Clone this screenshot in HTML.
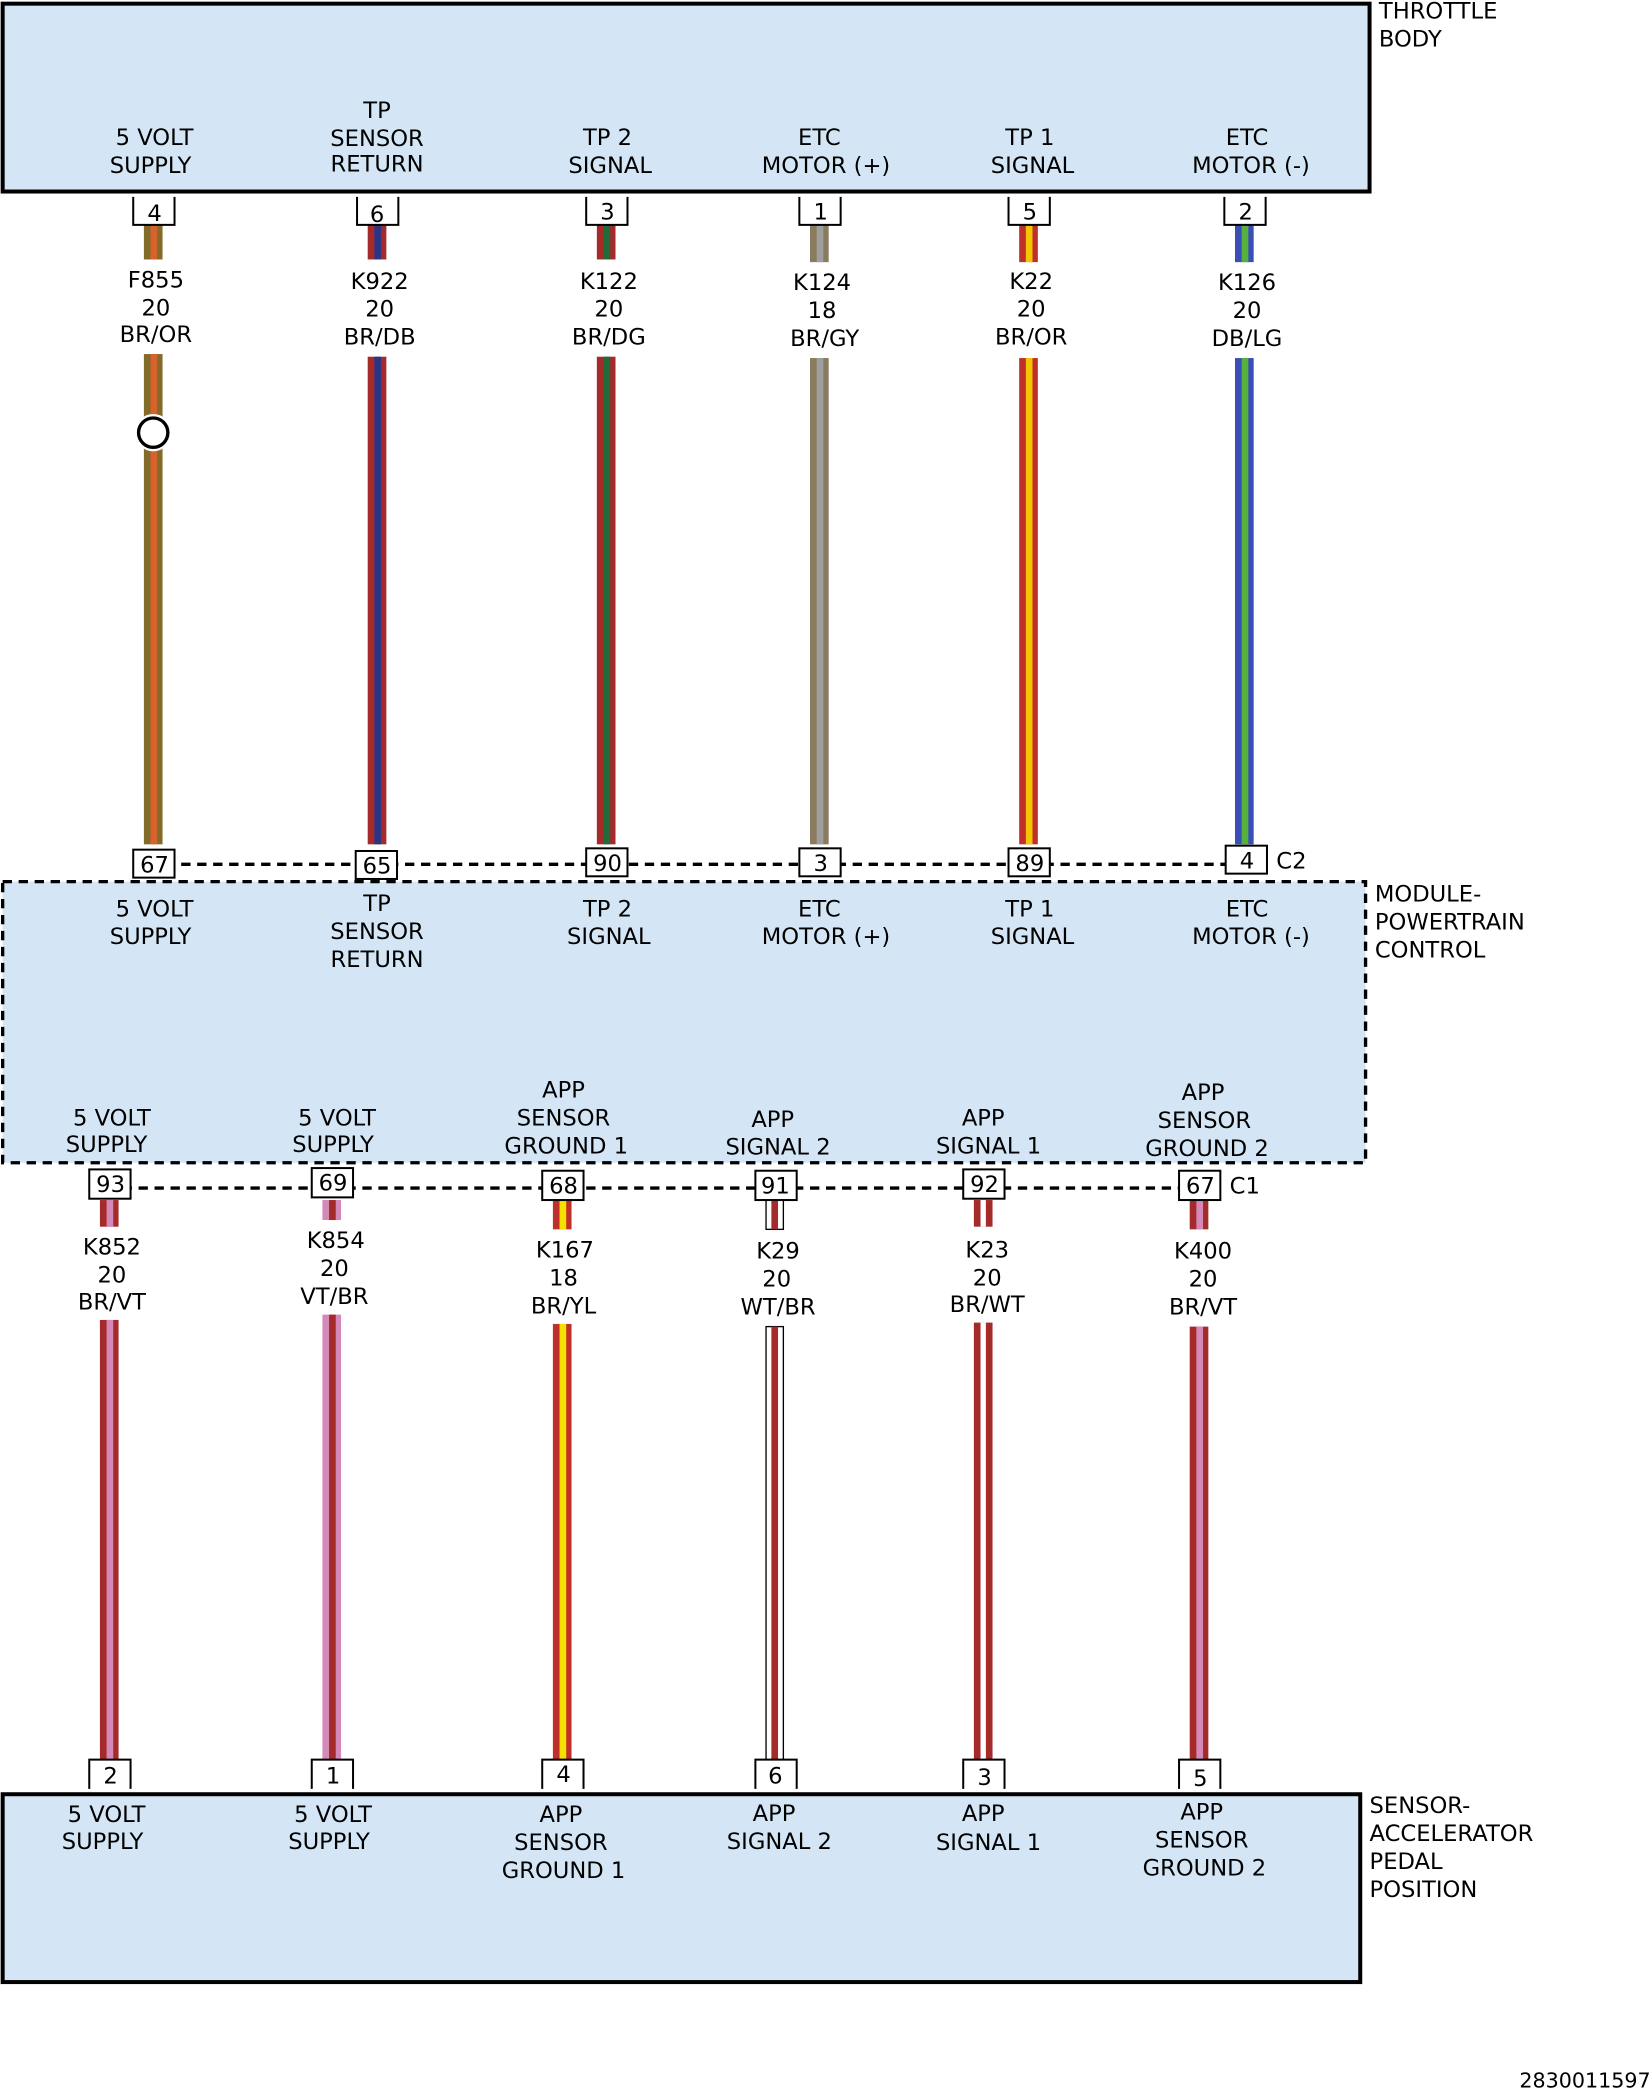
<!DOCTYPE html>
<html><head><meta charset="utf-8"><style>html,body{margin:0;padding:0;background:#fff}svg{display:block}text{font-family:"DejaVu Sans","Liberation Sans",sans-serif;font-size:17px;fill:#000;text-anchor:middle}.l{text-anchor:start}</style></head><body>
<svg width="1652" height="2091" viewBox="0 0 1240 1568" xmlns="http://www.w3.org/2000/svg">
<rect x="2" y="2" width="1026" height="141" fill="#d4e6f5" stroke="#000" stroke-width="3"/>
<rect x="2" y="661" width="1023" height="211" fill="#d4e6f5" stroke="#000" stroke-width="2.5" stroke-dasharray="7,5"/>
<rect x="2" y="1346" width="1019" height="141" fill="#d4e6f5" stroke="#000" stroke-width="3"/>
<line x1="100" y1="648" x2="935" y2="648" stroke="#000" stroke-width="2.5" stroke-dasharray="7,5"/>
<line x1="68" y1="891" x2="900" y2="891" stroke="#000" stroke-width="2.5" stroke-dasharray="7,5"/>
<g class="l"><text class="l" x="1035" y="13">THROTTLE</text><text class="l" x="1035" y="34">BODY</text>
<text class="l" x="1032" y="676">MODULE-</text><text class="l" x="1032" y="697">POWERTRAIN</text><text class="l" x="1032" y="718">CONTROL</text>
<text class="l" x="1028" y="1360">SENSOR-</text><text class="l" x="1028" y="1381">ACCELERATOR</text><text class="l" x="1028" y="1402">PEDAL</text><text class="l" x="1028" y="1423">POSITION</text>
<text class="l" x="958" y="651">C2</text><text class="l" x="923" y="895">C1</text><text x="1239" y="1566" style="text-anchor:end;font-size:15.5px">2830011597</text></g>
<g>
<rect x="108" y="168" width="14" height="26" fill="#836b2a"/><rect x="113" y="168" width="5" height="26" fill="#d9622b"/>
<rect x="108" y="265" width="14" height="368" fill="#836b2a"/><rect x="113" y="265" width="5" height="368" fill="#d9622b"/>
<circle cx="115" cy="324" r="14" fill="#fff"/><circle cx="115" cy="324" r="11" fill="#fff" stroke="#000" stroke-width="2.5"/>
<rect x="276" y="168" width="14" height="26" fill="#a52a2a"/><rect x="281" y="168" width="5" height="26" fill="#2c3585"/>
<rect x="276" y="267" width="14" height="366" fill="#a52a2a"/><rect x="281" y="267" width="5" height="366" fill="#2c3585"/>
<rect x="448" y="168" width="14" height="26" fill="#a52a2a"/><rect x="453" y="168" width="5" height="26" fill="#1f6b3a"/>
<rect x="448" y="267" width="14" height="366" fill="#a52a2a"/><rect x="453" y="267" width="5" height="366" fill="#1f6b3a"/>
<rect x="608" y="168" width="14" height="28" fill="#8a7a5e"/><rect x="613" y="168" width="5" height="28" fill="#9e9e9e"/>
<rect x="608" y="268" width="14" height="365" fill="#8a7a5e"/><rect x="613" y="268" width="5" height="365" fill="#9e9e9e"/>
<rect x="765" y="168" width="14" height="28" fill="#c0302a"/><rect x="770" y="168" width="5" height="28" fill="#f5c400"/>
<rect x="765" y="268" width="14" height="365" fill="#c0302a"/><rect x="770" y="268" width="5" height="365" fill="#f5c400"/>
<rect x="927" y="168" width="14" height="28" fill="#3a4fb5"/><rect x="932" y="168" width="5" height="28" fill="#56b23c"/>
<rect x="927" y="268" width="14" height="365" fill="#3a4fb5"/><rect x="932" y="268" width="5" height="365" fill="#56b23c"/>
</g>
<g>
<rect x="75" y="900" width="14" height="20" fill="#a52a2a"/><rect x="80" y="900" width="5" height="20" fill="#d48ab8"/>
<rect x="75" y="990" width="14" height="330" fill="#a52a2a"/><rect x="80" y="990" width="5" height="330" fill="#d48ab8"/>
<rect x="242" y="900" width="14" height="15" fill="#d48ab8"/><rect x="247" y="900" width="5" height="15" fill="#a52a2a"/>
<rect x="242" y="986" width="14" height="334" fill="#d48ab8"/><rect x="247" y="986" width="5" height="334" fill="#a52a2a"/>
<rect x="415" y="900" width="14" height="22" fill="#c0302a"/><rect x="420" y="900" width="5" height="22" fill="#f5e000"/>
<rect x="415" y="993" width="14" height="327" fill="#c0302a"/><rect x="420" y="993" width="5" height="327" fill="#f5e000"/>
<rect x="575" y="900" width="13" height="22" fill="#fff" stroke="#000" stroke-width="1"/><rect x="579" y="900" width="5" height="22" fill="#a52a2a"/>
<rect x="575" y="995" width="13" height="325" fill="#fff" stroke="#000" stroke-width="1"/><rect x="579" y="995" width="5" height="325" fill="#a52a2a"/>
<rect x="731" y="900" width="14" height="20" fill="#a52a2a"/><rect x="736" y="900" width="4" height="20" fill="#fff"/>
<rect x="731" y="992" width="14" height="328" fill="#a52a2a"/><rect x="736" y="992" width="4" height="328" fill="#fff"/>
<rect x="893" y="900" width="14" height="22" fill="#a52a2a"/><rect x="898" y="900" width="5" height="22" fill="#d48ab8"/>
<rect x="893" y="995" width="14" height="325" fill="#a52a2a"/><rect x="898" y="995" width="5" height="325" fill="#d48ab8"/>
</g>
<g fill="#fff" stroke="#000" stroke-width="1.5">
<path d="M100 147V168H131V147"/><path d="M268 147V168H299V147"/><path d="M440 147V168H471V147"/><path d="M600 147V168H631V147"/><path d="M757 147V168H788V147"/><path d="M919 147V168H950V147"/>
<rect x="100" y="637" width="31" height="21"/><rect x="267" y="638" width="31" height="21"/><rect x="440" y="636" width="31" height="21"/><rect x="600" y="636" width="31" height="21"/><rect x="757" y="636" width="31" height="21"/><rect x="920" y="634" width="31" height="21"/>
<rect x="67" y="877" width="31" height="22"/><rect x="234" y="876" width="31" height="22"/><rect x="407" y="878" width="31" height="22"/><rect x="567" y="878" width="31" height="22"/><rect x="723" y="877" width="31" height="22"/><rect x="885" y="878" width="31" height="22"/>
<path d="M67 1342V1320H98V1342"/><path d="M234 1342V1320H265V1342"/><path d="M407 1342V1320H438V1342"/><path d="M567 1342V1320H598V1342"/><path d="M723 1342V1320H754V1342"/><path d="M885 1342V1320H916V1342"/>
</g>
<g>
<text x="116" y="165">4</text><text x="283" y="166">6</text><text x="456" y="164">3</text><text x="616" y="164">1</text><text x="773" y="164">5</text><text x="935" y="164">2</text>
<text x="116" y="654">67</text><text x="283" y="655">65</text><text x="456" y="653">90</text><text x="616" y="653">3</text><text x="773" y="653">89</text><text x="936" y="651">4</text>
<text x="83" y="894">93</text><text x="250" y="893">69</text><text x="423" y="895">68</text><text x="582" y="895">91</text><text x="739" y="894">92</text><text x="901" y="895">67</text>
<text x="83" y="1338">2</text><text x="250" y="1338">1</text><text x="423" y="1337">4</text><text x="582" y="1338">6</text><text x="739" y="1339">3</text><text x="901" y="1340">5</text>
</g>
<g>
<text x="116" y="108">5 VOLT</text><text x="113" y="129">SUPPLY</text>
<text x="283" y="88">TP</text><text x="283" y="109">SENSOR</text><text x="283" y="128">RETURN</text>
<text x="456" y="108">TP 2</text><text x="458" y="129">SIGNAL</text>
<text x="615" y="108">ETC</text><text x="620" y="129">MOTOR (+)</text>
<text x="773" y="108">TP 1</text><text x="775" y="129">SIGNAL</text>
<text x="936" y="108">ETC</text><text x="939" y="129">MOTOR (-)</text>
<text x="117" y="215">F855</text><text x="117" y="236">20</text><text x="117" y="256">BR/OR</text>
<text x="285" y="216">K922</text><text x="285" y="237">20</text><text x="285" y="258">BR/DB</text>
<text x="457" y="216">K122</text><text x="457" y="237">20</text><text x="457" y="258">BR/DG</text>
<text x="617" y="217">K124</text><text x="617" y="238">18</text><text x="619" y="259">BR/GY</text>
<text x="774" y="216">K22</text><text x="774" y="237">20</text><text x="774" y="258">BR/OR</text>
<text x="936" y="217">K126</text><text x="936" y="238">20</text><text x="936" y="259">DB/LG</text>
<text x="116" y="687">5 VOLT</text><text x="113" y="708">SUPPLY</text>
<text x="283" y="683">TP</text><text x="283" y="704">SENSOR</text><text x="283" y="725">RETURN</text>
<text x="456" y="687">TP 2</text><text x="457" y="708">SIGNAL</text>
<text x="615" y="687">ETC</text><text x="620" y="708">MOTOR (+)</text>
<text x="773" y="687">TP 1</text><text x="775" y="708">SIGNAL</text>
<text x="936" y="687">ETC</text><text x="939" y="708">MOTOR (-)</text>
<text x="84" y="844">5 VOLT</text><text x="80" y="864">SUPPLY</text>
<text x="253" y="844">5 VOLT</text><text x="250" y="864">SUPPLY</text>
<text x="423" y="823">APP</text><text x="423" y="844">SENSOR</text><text x="425" y="865">GROUND 1</text>
<text x="580" y="845">APP</text><text x="584" y="866">SIGNAL 2</text>
<text x="738" y="844">APP</text><text x="742" y="865">SIGNAL 1</text>
<text x="903" y="825">APP</text><text x="904" y="846">SENSOR</text><text x="906" y="867">GROUND 2</text>
<text x="84" y="941">K852</text><text x="84" y="962">20</text><text x="84" y="982">BR/VT</text>
<text x="252" y="936">K854</text><text x="251" y="957">20</text><text x="251" y="978">VT/BR</text>
<text x="424" y="943">K167</text><text x="423" y="964">18</text><text x="423" y="985">BR/YL</text>
<text x="584" y="944">K29</text><text x="583" y="965">20</text><text x="584" y="986">WT/BR</text>
<text x="741" y="943">K23</text><text x="741" y="964">20</text><text x="741" y="984">BR/WT</text>
<text x="903" y="944">K400</text><text x="903" y="965">20</text><text x="903" y="986">BR/VT</text>
<text x="80" y="1367">5 VOLT</text><text x="77" y="1387">SUPPLY</text>
<text x="250" y="1367">5 VOLT</text><text x="247" y="1387">SUPPLY</text>
<text x="421" y="1367">APP</text><text x="421" y="1388">SENSOR</text><text x="423" y="1409">GROUND 1</text>
<text x="581" y="1366">APP</text><text x="585" y="1387">SIGNAL 2</text>
<text x="738" y="1366">APP</text><text x="742" y="1388">SIGNAL 1</text>
<text x="902" y="1365">APP</text><text x="902" y="1386">SENSOR</text><text x="904" y="1407">GROUND 2</text>
</g>
</svg>
</body></html>
